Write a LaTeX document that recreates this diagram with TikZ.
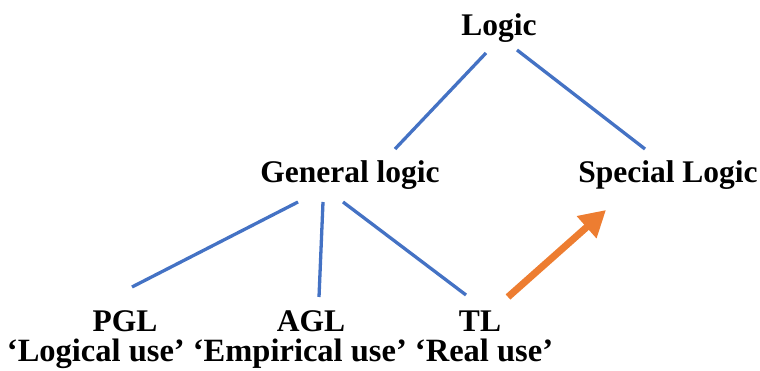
\documentclass[tikz,border=0pt]{standalone}
\usepackage{fontspec}
\setmainfont{Liberation Serif}
\usetikzlibrary{arrows.meta}
\definecolor{lnblue}{HTML}{4472C4}
\definecolor{arrorange}{HTML}{ED7D31}

\begin{document}
\begin{tikzpicture}[x=1pt,y=1pt,
  lbl/.style={inner sep=0pt,anchor=base,font=\fontsize{31.5}{36}\selectfont\bfseries},
  ln/.style={draw=lnblue,line width=3.3pt},
  arr/.style={-{Triangle[length=26pt,width=28pt]},draw=arrorange,line width=7pt}]
\useasboundingbox (0,0) rectangle (760,371);
\node[lbl] (logic) at (499,335) {Logic};
\node[lbl] (gen) at (350,188) {General logic};
\node[lbl] (spec) at (668,188) {Special Logic};
\node[lbl] (pgl) at (125,39) {PGL};
\node[lbl] (agl) at (311,39) {AGL};
\node[lbl] (tl) at (480,39) {TL};
\node[lbl,font=\fontsize{32.5}{36}\selectfont\bfseries] (uses) at (280,9) {‘Logical use’ ‘Empirical use’ ‘Real use’};
\draw[ln] ([shift={(-13,-17)}]logic.base) -- ([shift={(45,34)}]gen.base);
\draw[ln] ([shift={(18,-14)}]logic.base) -- ([shift={(-23,34)}]spec.base);
\draw[ln] ([shift={(-52,-19)}]gen.base) -- ([shift={(7,45)}]pgl.base);
\draw[ln] ([shift={(-27,-19)}]gen.base) -- ([shift={(8,35)}]agl.base);
\draw[ln] ([shift={(-7,-19)}]gen.base) -- ([shift={(-14,37)}]tl.base);
\draw[arr] ([shift={(28,35)}]tl.base) -- ([shift={(-62,-27)}]spec.base);
\end{tikzpicture}
\end{document}
